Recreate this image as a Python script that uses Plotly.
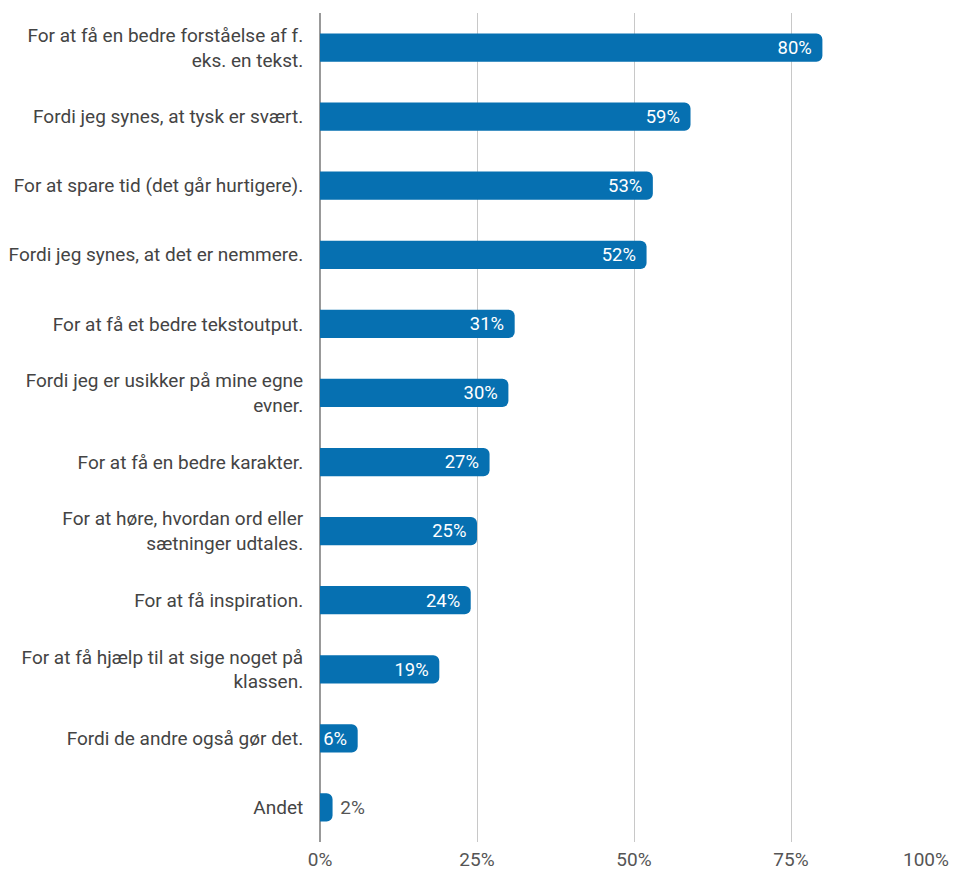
import plotly.graph_objects as go

categories = [
    "For at få en bedre forståelse af f.<br>eks. en tekst.",
    "Fordi jeg synes, at tysk er svært.",
    "For at spare tid (det går hurtigere).",
    "Fordi jeg synes, at det er nemmere.",
    "For at få et bedre tekstoutput.",
    "Fordi jeg er usikker på mine egne<br>evner.",
    "For at få en bedre karakter.",
    "For at høre, hvordan ord eller<br>sætninger udtales.",
    "For at få inspiration.",
    "For at få hjælp til at sige noget på<br>klassen.",
    "Fordi de andre også gør det.",
    "Andet",
]
values = [80, 59, 53, 52, 31, 30, 27, 25, 24, 19, 6, 2]
tick_vals = [0, 25, 50, 75, 100]
tick_text = ["0%", "25%", "50%", "75%", "100%"]

FS = 19
positions = ["inside" if v >= 5 else "outside" for v in values]
labels = [(f"{v}%\u00a0" if p == "inside" else f"\u00a0{v}%") for v, p in zip(values, positions)]

fig = go.Figure(go.Bar(
    x=values,
    y=categories,
    orientation="h",
    marker=dict(color="#0670B1", line=dict(width=0)),
    text=labels,
    textposition=positions,
    insidetextanchor="end",
    insidetextfont=dict(color="white", size=FS, family="Roboto"),
    outsidetextfont=dict(color="#555555", size=FS, family="Roboto"),
    cliponaxis=False,
    hoverinfo="skip",
))

fig.update_layout(
    width=953, height=870,
    margin=dict(l=320, r=5, t=13, b=28, autoexpand=False),
    paper_bgcolor="white", plot_bgcolor="white",
    bargap=0.59,
    barcornerradius=6,
    font=dict(family="Roboto", size=FS, color="#444444"),
    showlegend=False,
)
fig.update_xaxes(
    range=[0, 100],
    tickvals=tick_vals[:-1], ticktext=tick_text[:-1],
    ticklabelstandoff=4,
    showgrid=True, gridcolor="#c8c8c8", gridwidth=1,
    zeroline=True, zerolinecolor="#999999", zerolinewidth=1.5,
    tickfont=dict(size=FS, color="#555555"),
    fixedrange=True,
)
fig.update_yaxes(
    autorange="reversed",
    ticks="outside", ticklen=12, tickcolor="rgba(0,0,0,0)",
    tickfont=dict(size=FS, color="#444444"),
    showgrid=False,
)
fig.add_annotation(
    x=tick_vals[-1], y=0, xref="x", yref="paper",
    text=tick_text[-1], showarrow=False,
    xanchor="right", yanchor="top", yshift=-4, xshift=3,
    font=dict(size=FS, color="#555555"),
)

fig.write_html("out.html")
